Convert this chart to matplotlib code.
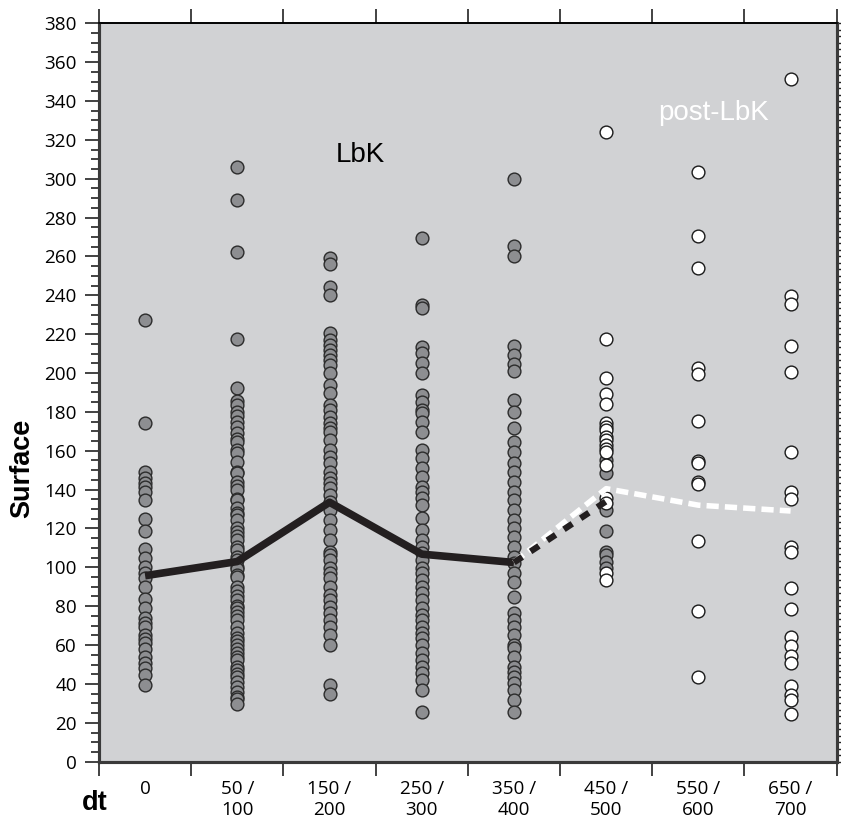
import matplotlib
matplotlib.use("Agg")
import matplotlib.pyplot as plt
from matplotlib.ticker import MultipleLocator, FixedLocator

# phase labels (dt bins)
bins = ["0", "50 /\n100", "150 /\n200", "250 /\n300", "350 /\n400",
        "450 /\n500", "550 /\n600", "650 /\n700"]

# surface values of LbK houses per bin
lbk_0 = [227.3, 174.2, 149.3, 145.9, 143.6, 141.5, 139.0, 134.7, 124.8, 118.7,
         109.3, 104.7, 100.4, 97.0, 94.4, 90.1, 83.6, 79.0, 73.8, 71.2,
         69.2, 65.2, 63.0, 60.9, 57.8, 53.7, 50.6, 48.1, 44.6, 39.5]
lbk_1 = [305.8, 289.0, 262.4, 217.5, 192.2, 185.7, 183.6, 180.0, 177.9, 175.0,
         172.4, 169.0, 166.0, 164.7, 160.4, 158.7, 154.4, 149.2, 148.4, 144.1,
         142.0, 139.8, 135.0, 134.7, 130.4, 128.0, 127.0, 124.4, 120.0, 118.4,
         116.0, 114.1, 110.7, 109.0, 105.5, 104.0, 100.4, 99.0, 96.1, 95.0,
         90.1, 88.0, 85.0, 83.2, 80.0, 79.0, 77.0, 75.0, 72.9, 69.5,
         66.0, 63.5, 62.0, 60.1, 58.0, 55.8, 53.7, 52.3, 48.9, 47.0,
         45.0, 43.7, 41.0, 38.6, 36.0, 33.5, 32.0, 29.5]
lbk_2 = [259.1, 256.2, 244.5, 240.2, 220.5, 217.0, 214.5, 211.9, 209.3, 206.7,
         204.2, 199.9, 193.9, 189.6, 183.6, 181.0, 177.6, 174.5, 171.6, 169.8,
         165.6, 160.4, 157.0, 153.6, 149.3, 145.9, 143.3, 140.7, 137.3, 133.8,
         129.5, 124.4, 119.2, 114.1, 108.1, 106.4, 103.8, 99.5, 97.0, 94.4,
         90.1, 85.8, 83.2, 79.8, 76.4, 72.9, 69.5, 65.2, 60.1, 39.5, 34.8]
lbk_3 = [269.4, 235.0, 233.3, 213.6, 210.2, 205.0, 199.9, 188.7, 185.3, 181.0,
         179.3, 175.0, 169.8, 160.4, 156.1, 151.0, 146.7, 141.5, 139.0, 135.6,
         132.1, 125.3, 119.2, 114.1, 110.7, 107.3, 103.8, 99.5, 97.0, 93.5,
         90.1, 86.7, 83.2, 79.0, 75.5, 72.9, 69.5, 66.1, 63.5, 60.1,
         55.8, 52.3, 48.9, 45.5, 42.0, 36.9, 25.7]
lbk_4 = [299.6, 265.6, 260.1, 214.1, 209.5, 204.9, 201.2, 186.2, 180.1, 171.6,
         164.7, 159.5, 153.6, 149.3, 144.1, 139.0, 134.7, 129.5, 124.4, 120.1,
         115.8, 110.7, 105.5, 102.1, 97.0, 92.6, 84.9, 76.4, 72.9, 69.5,
         65.2, 60.1, 58.4, 54.0, 48.9, 46.3, 43.7, 40.3, 36.9, 31.8, 25.7]
lbk_5 = [155.3, 148.7, 129.5, 118.7, 108.1, 106.4, 103.0, 99.5]
lbk_groups = [lbk_0, lbk_1, lbk_2, lbk_3, lbk_4, lbk_5]

# surface values of post-LbK houses
post_5 = [323.8, 217.5, 197.3, 189.1, 183.9, 174.5, 172.4, 170.7, 167.0, 165.6,
          163.0, 160.8, 159.5, 152.7, 135.6, 133.0, 97.0, 93.5]
post_6 = [303.2, 270.6, 253.9, 202.4, 199.5, 175.3, 154.8, 153.6, 144.1, 142.7,
          113.7, 77.6, 43.7]
post_7 = [351.3, 239.7, 235.6, 213.9, 200.7, 159.5, 139.0, 135.2, 110.7, 107.8,
          89.6, 78.6, 64.3, 59.5, 54.4, 51.0, 39.0, 34.3, 31.8, 24.5]
post_groups = {5: post_5, 6: post_6, 7: post_7}

# mean trend lines
lbk_mean = [95.7, 103.0, 133.5, 106.8, 102.5, 134.0]
post_mean = [102.5, 140.5, 132.0, 129.0]

bg = "#d1d2d4"
gray_fill = "#8d8e91"

fig = plt.figure(figsize=(8.41, 8.22), dpi=100)
ax = fig.add_axes([0.1177, 0.0734, 0.8772, 0.8983])
ax.set_facecolor(bg)

# LbK points (gray)
for i, vals in enumerate(lbk_groups):
    ax.plot([i + 0.5] * len(vals), vals, "o", ms=9.2, mfc=gray_fill,
            mec="#2b2b2b", mew=1.0, zorder=3)

# post-LbK points (white)
for i, vals in post_groups.items():
    ax.plot([i + 0.5] * len(vals), vals, "o", ms=9.2, mfc="white",
            mec="#1a1a1a", mew=1.0, zorder=4)

# trend lines
xs_lbk = [i + 0.5 for i in range(len(lbk_mean))]
ax.plot(xs_lbk[:5], lbk_mean[:5], color="#231f20", lw=5.5,
        solid_capstyle="butt", zorder=5)
xs_post = [i + 4.5 for i in range(len(post_mean))]
ax.plot(xs_post, post_mean, color="white", lw=4, ls=(0, (2.2, 1.1)),
        zorder=6)
ax.plot(xs_lbk[4:], lbk_mean[4:], color="#231f20", lw=4.5, ls=(0, (1.6, 1.6)),
        zorder=7)

ax.text(2.83, 312, "LbK", fontsize=20, family="Liberation Sans",
        ha="center", va="center", color="black")
ax.text(6.66, 334, "post-LbK", fontsize=20, family="Liberation Sans",
        ha="center", va="center", color="white")

# axes ranges and ticks
ax.set_xlim(0, 8)
ax.set_ylim(0, 380)
ax.yaxis.set_major_locator(MultipleLocator(20))
ax.yaxis.set_minor_locator(MultipleLocator(5))
ax.tick_params(axis="y", which="major", direction="out", length=10, width=1.2,
               labelsize=13.6, pad=6, color="#222222")
ax.tick_params(axis="y", which="minor", direction="out", length=6, width=1.2,
               color="#222222")
for lab in ax.get_yticklabels():
    lab.set_family("Open Sans")

ax.xaxis.set_major_locator(FixedLocator(range(9)))
ax.xaxis.set_minor_locator(FixedLocator([i + 0.5 for i in range(8)]))
ax.set_xticklabels([])
ax.set_xticklabels(bins, minor=True, fontsize=13.6, family="Open Sans",
                   linespacing=1.22)
ax.tick_params(axis="x", which="major", direction="out", length=10, width=1.2,
               top=True, color="#222222")
ax.tick_params(axis="x", which="minor", length=0, pad=13)

# fine ticks along the right side
axr = ax.twinx()
axr.set_ylim(0, 114)
axr.yaxis.set_major_locator(MultipleLocator(1))
axr.tick_params(axis="y", direction="out", length=5, width=1.0,
                labelright=False, color="#222222")

for side in ["left", "bottom", "right"]:
    ax.spines[side].set_linewidth(2.2)
    ax.spines[side].set_color("#3a3a3a")
    axr.spines[side].set_linewidth(2.2)
    axr.spines[side].set_color("#3a3a3a")
ax.spines["top"].set_linewidth(1.2)
axr.spines["top"].set_linewidth(1.2)

fig.text(0.026, 0.43, "Surface", rotation=90, fontsize=19.5,
         fontweight="bold", family="Liberation Sans", ha="center", va="center")
fig.text(0.113, 0.014, "dt", fontsize=19.5, fontweight="bold",
         family="Liberation Sans", ha="center", va="baseline")

fig.savefig("out.png", dpi=100)
